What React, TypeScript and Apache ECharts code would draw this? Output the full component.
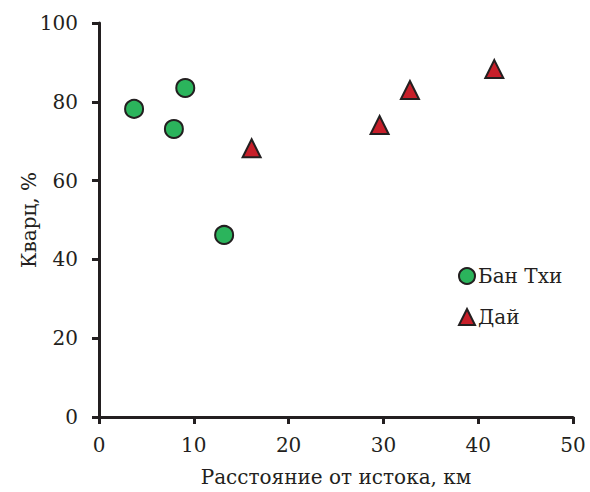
import React, { useEffect, useRef } from "react";
import * as echarts from "echarts";

const banTxiX = [3.7, 7.9, 9.1, 13.2];
const banTxiY = [78.2, 73.1, 83.5, 46.2];
const daiX = [16.1, 29.6, 32.8, 41.7];
const daiY = [68.2, 74.1, 83.0, 88.3];
const seriesNames = ["Бан Тхи", "Дай"];
const xTitle = "Расстояние от истока, км";
const yTitle = "Кварц, %";

const FONT = "DejaVu Serif";
const INK = "#231f20";

export default function App() {
  const ref = useRef<HTMLDivElement>(null);
  useEffect(() => {
    if (!ref.current) return;
    const chart = echarts.init(ref.current, null, { renderer: "svg" });
    const axisCommon = {
      axisLine: { show: true, onZero: false, lineStyle: { color: INK, width: 3 } },
      axisTick: { show: true, inside: false, length: 7, lineStyle: { color: INK, width: 3 } },
      splitLine: { show: false },
      axisLabel: { color: INK, fontFamily: FONT, fontSize: 20 },
      nameTextStyle: { color: INK, fontFamily: FONT, fontSize: 20 },
      nameMoveOverlap: false,
    };
    chart.setOption({
      animation: false,
      backgroundColor: "#ffffff",
      textStyle: { fontFamily: FONT },
      grid: { left: 99, top: 23, right: 17, bottom: 74, containLabel: false },
      legend: {
        orient: "vertical",
        left: 453,
        top: 261,
        itemGap: 21,
        itemWidth: 16,
        itemHeight: 16,
        textStyle: { color: INK, fontFamily: FONT, fontSize: 20, padding: [0, 0, 0, -2] },
        data: seriesNames,
      },
      xAxis: {
        type: "value",
        min: 0,
        max: 50,
        interval: 10,
        name: xTitle,
        nameLocation: "middle",
        nameGap: 50,
        ...axisCommon,
        axisLabel: { ...axisCommon.axisLabel, margin: 18 },
      },
      yAxis: {
        type: "value",
        min: 0,
        max: 100,
        interval: 20,
        name: yTitle,
        nameLocation: "middle",
        nameGap: 60,
        ...axisCommon,
        axisLabel: { ...axisCommon.axisLabel, margin: 21 },
      },
      series: [
        {
          name: seriesNames[0],
          type: "scatter",
          symbol: "circle",
          symbolSize: 18,
          itemStyle: { color: "#2bb45c", borderColor: INK, borderWidth: 2, opacity: 1 },
          data: banTxiX.map((x, i) => [x, banTxiY[i]]),
        },
        {
          name: seriesNames[1],
          type: "scatter",
          symbol: "triangle",
          symbolSize: 18,
          itemStyle: { color: "#c71f2a", borderColor: INK, borderWidth: 2, opacity: 1 },
          data: daiX.map((x, i) => [x, daiY[i]]),
        },
      ],
    });
    return () => chart.dispose();
  }, []);
  return <div ref={ref} style={{ width: 590, height: 492, position: "absolute", left: 0, top: 0 }} />;
}
